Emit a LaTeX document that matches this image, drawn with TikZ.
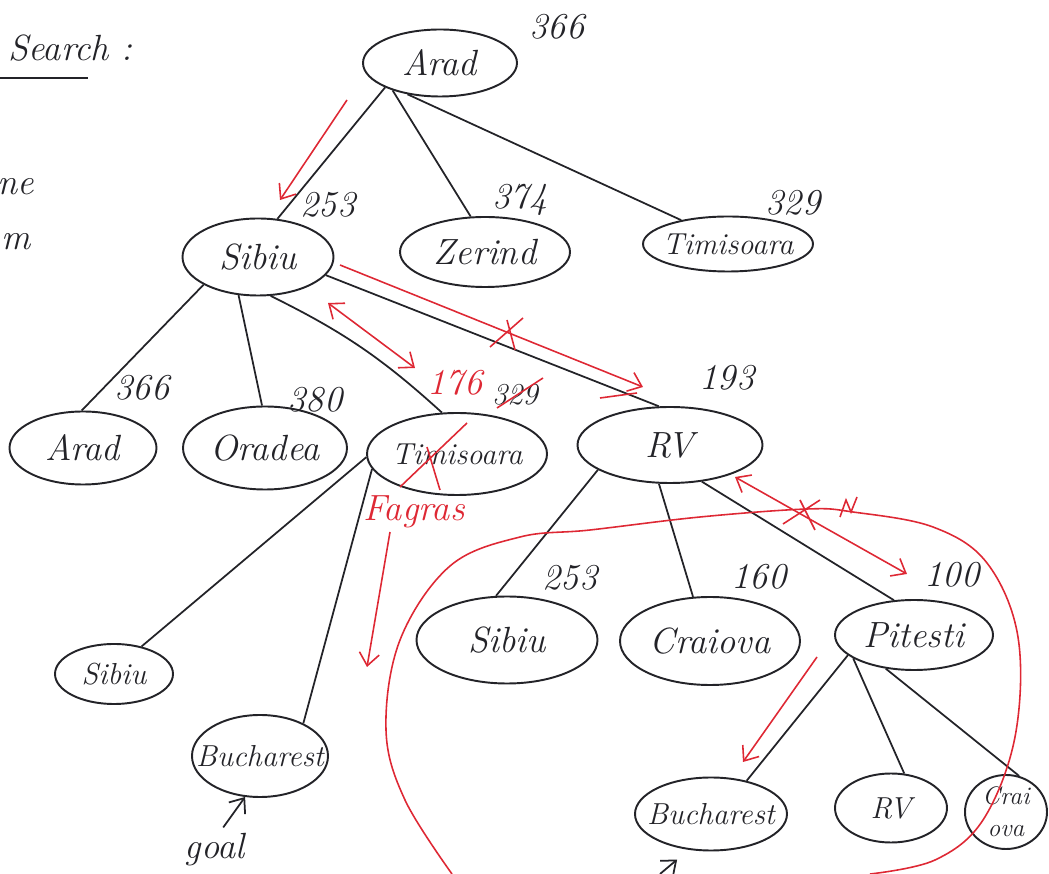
\documentclass[tikz,border=0pt]{standalone}
\usepackage{tikz}
\usetikzlibrary{positioning,arrows.meta,shapes.geometric}
\usepackage{xcolor}
\definecolor{ink}{RGB}{35,35,40}
\definecolor{redink}{RGB}{222,40,52}

\begin{document}
\begin{tikzpicture}[x=0.02cm,y=-0.02cm,
  city/.style={ellipse,draw=ink,line width=1.1pt,inner xsep=-6mm,inner ysep=-2mm,font=\huge\itshape,text=ink},
  ell/.style 2 args={minimum width=#1*0.02cm,minimum height=#2*0.02cm},
  cost/.style={font=\huge\itshape,text=ink},
  link/.style={draw=ink,line width=1pt},
  hint/.style={draw=redink,line width=0.9pt},
  tip/.style={-{Straight Barb[length=2.5mm,width=4mm]}},
  tips/.style={{Straight Barb[length=2.5mm,width=4mm]}-{Straight Barb[length=2.5mm,width=4mm]}}]
\useasboundingbox (0,0) rectangle (1049,874);

% heading, cut at the left edge
\node[cost,anchor=west] (title) at (2,48) {Search :};
\draw[link] (0,78) -- (88,78);
\node[cost,anchor=east] (ne) at (40,187) {ne};
\node[cost,anchor=east] (m) at (37,242) {m};

% root and first level
\node[city,ell={154}{67}] (arad) at (440,63) {Arad};
\node[city,ell={151}{77}] (sibiu) at (258,257) {Sibiu};
\node[city,ell={170}{70}] (zerind) at (485,252) {Zerind};
\node[city,ell={170}{55},font=\LARGE\itshape] (timA) at (728,244) {Timisoara};
% second level
\node[city,ell={147}{73}] (arad2) at (83,448) {Arad};
\node[city,ell={164}{83}] (oradea) at (265,448) {Oradea};
\node[city,ell={180}{82},font=\LARGE\itshape] (fagaras) at (457,454) {Timisoara};
\node[city,ell={185}{76}] (rv) at (670,445) {RV};
% third level
\node[city,ell={118}{60},font=\LARGE\itshape] (sibiu3) at (114,674) {Sibiu};
\node[city,ell={136}{82},font=\LARGE\itshape] (bucharest) at (260,756) {Bucharest};
\node[city,ell={181}{87}] (sibiu4) at (507,640) {Sibiu};
\node[city,ell={180}{88}] (craiova) at (710,641) {Craiova};
\node[city,ell={158}{70}] (pitesti) at (914,635) {Pitesti};
% last level
\node[city,ell={152}{73},font=\LARGE\itshape] (bucharest2) at (711,814) {Bucharest};
\node[city,ell={112}{69},font=\LARGE\itshape] (rv2) at (891,808) {RV};
\node[city,ell={82}{74},font=\Large\itshape,align=center] (craiova2) at (1006,812) {Crai\\ova};

% heuristic values
\foreach \n/\x/\y/\v in {h1/557/27/366,h2/328/205/253,h3/520/200/374,h4/793/203/329,
  h5/142/388/366,h6/315/400/380,h8/727/378/193,h9/570/578/253,h10/759/577/160,h11/952/575/100}
  \node[cost] (\n) at (\x,\y) {\v};
\node[cost,font=\LARGE\itshape] (h7) at (515,395) {329};
\node[cost,text=redink] (h176) at (455,383) {176};
\node[cost,text=redink] (fag) at (414,512) {Fagras};

% tree edges
\foreach \a/\b in {arad.204/sibiu.63,arad.210/zerind.112,arad.224/timA.153,
  sibiu.207/arad2.92,sibiu.243/oradea.94,sibiu.345/rv.106,
  fagaras.182/sibiu3.45,fagaras.190/bucharest.37,
  rv.199/sibiu4.104,rv.254/craiova.111,rv.311/pitesti.120,
  pitesti.197/bucharest2.43,pitesti.201/rv2.69,pitesti.230/craiova2.70}
  \draw[link] (\a) -- (\b);
\draw[link] (sibiu.288) to[bend left=8] (fagaras.110);

% goal marks
\node[cost] (goal) at (215,850) {goal};
\draw[link,tip] (goal.70) -- (bucharest.250);
\coordinate (goal2) at (660,874);
\draw[link,tip,shorten >=0.3cm] (goal2) -- (bucharest2.238);

% red: order of expansion
\coordinate (r1a) at (347,100); \coordinate (r1b) at (280,200);
\coordinate (r2a) at (328,303); \coordinate (r2b) at (415,368);
\coordinate (r3a) at (340,265); \coordinate (r3b) at (643,387);
\coordinate (r4a) at (390,532); \coordinate (r4b) at (367,667);
\coordinate (r5a) at (735,477); \coordinate (r5b) at (907,574);
\coordinate (r6a) at (817,657); \coordinate (r6b) at (743,762);
\draw[hint,tip] (r1a) -- (r1b);
\draw[hint,tips] (r2a) -- (r2b);
\draw[hint,tip] (r3a) -- (r3b);
\draw[hint,tip] (r4a) -- (r4b);
\draw[hint,tips] (r5a) -- (r5b);
\draw[hint,tip] (r6a) -- (r6b);
\draw[hint] (600,398) -- (637,393);
% crossings out
\draw[hint] (490,347) -- (523,318) (507,320) -- (515,350);
\draw[hint] (783,524) -- (820,500) (800,500) -- (815,530);
\draw[hint] (400,487) -- (467,423) (427,447) -- (440,490);
\draw[hint] (497,408) -- (543,378);
\draw[hint] (840,517) -- (846,500) -- (851,512) -- (857,497);
% loop round the Pitesti side
\draw[hint] plot[smooth,tension=0.6] coordinates {(452,874) (405,800) (386,730)
  (400,640) (450,566) (520,537) (590,530) (700,517) (807,509) (853,512)
  (933,527) (987,563) (1018,637) (1015,737) (983,820) (935,860) (870,874)};
\end{tikzpicture}
\end{document}
